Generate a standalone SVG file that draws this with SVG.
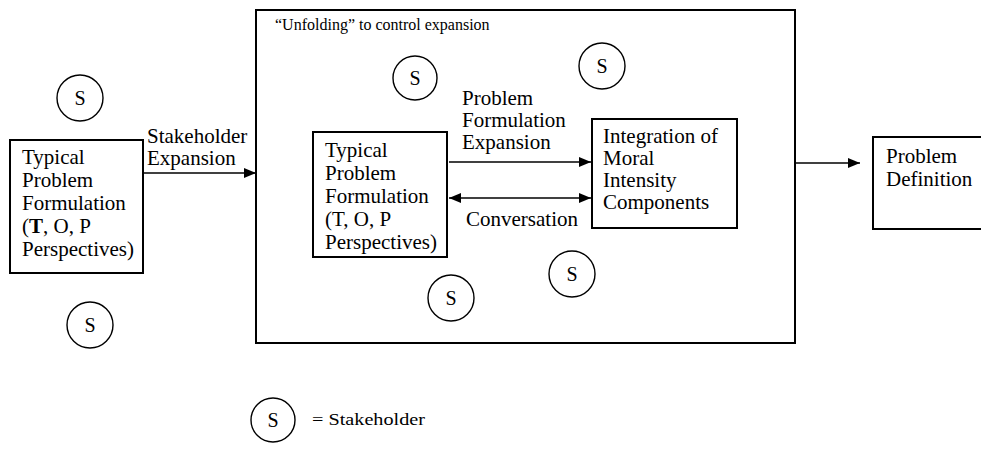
<svg xmlns="http://www.w3.org/2000/svg" width="981" height="449" viewBox="0 0 981 449">
<style>
text{font-family:"Liberation Serif","Times New Roman",serif;fill:#000}
.t{font-size:21px}
.s{font-size:20px}
.box{fill:#fff;stroke:#000;stroke-width:2}
.c{fill:none;stroke:#000;stroke-width:1.4}
.ln{stroke:#000;stroke-width:1.6;fill:none}
</style>
<defs>
<marker id="ah" viewBox="0 0 12 10" refX="12" refY="5" markerWidth="12" markerHeight="10" markerUnits="userSpaceOnUse" orient="auto-start-reverse">
<path d="M0,0 L12,5 L0,10 Z" fill="#000"/>
</marker>
</defs>
<rect width="981" height="449" fill="#fff"/>
<g id="unfolding">
<rect class="box" x="256" y="10" width="539" height="333"/>
<text x="275" y="30" style="font-size:16px">“Unfolding” to control expansion</text>
</g>
<g id="typical-left">
<rect class="box" x="10" y="140" width="133" height="133"/>
<text class="t" x="22" y="164">Typical</text>
<text class="t" x="22" y="187">Problem</text>
<text class="t" x="22" y="210">Formulation</text>
<text class="t" x="22" y="233">(<tspan font-weight="bold">T</tspan>, O, P</text>
<text class="t" x="22" y="256">Perspectives)</text>
</g>
<g id="typical-inner">
<rect class="box" x="313" y="132" width="134" height="125"/>
<text class="t" x="325" y="157">Typical</text>
<text class="t" x="325" y="180">Problem</text>
<text class="t" x="325" y="203">Formulation</text>
<text class="t" x="325" y="226">(T, O, P</text>
<text class="t" x="325" y="249">Perspectives)</text>
</g>
<g id="integration">
<rect class="box" x="592" y="119" width="145" height="109"/>
<text class="t" x="603" y="143">Integration of</text>
<text class="t" x="603" y="165">Moral</text>
<text class="t" x="603" y="187">Intensity</text>
<text class="t" x="603" y="209">Components</text>
</g>
<g id="problem-definition">
<rect class="box" x="873" y="137" width="112" height="92"/>
<text class="t" x="886" y="163">Problem</text>
<text class="t" x="886" y="186">Definition</text>
</g>
<g id="stakeholders">
<g id="s1"><circle class="c" cx="80" cy="98" r="23"/><text class="s" x="80" y="105" text-anchor="middle">S</text></g>
<g id="s2"><circle class="c" cx="90" cy="325" r="23"/><text class="s" x="90" y="332" text-anchor="middle">S</text></g>
<g id="s3"><circle class="c" cx="415" cy="78" r="22"/><text class="s" x="415" y="85" text-anchor="middle">S</text></g>
<g id="s4"><circle class="c" cx="602" cy="66" r="23"/><text class="s" x="602" y="73" text-anchor="middle">S</text></g>
<g id="s5"><circle class="c" cx="572" cy="274" r="23"/><text class="s" x="572" y="281" text-anchor="middle">S</text></g>
<g id="s6"><circle class="c" cx="451" cy="298" r="23"/><text class="s" x="451" y="305" text-anchor="middle">S</text></g>
</g>
<g id="legend">
<circle class="c" cx="273" cy="420" r="22"/><text class="s" x="273" y="427" text-anchor="middle">S</text>
<text x="312" y="425" style="font-size:17px" textLength="113" lengthAdjust="spacingAndGlyphs">= Stakeholder</text>
</g>
<g id="connectors">
<line class="ln" x1="143" y1="173" x2="256" y2="173" marker-end="url(#ah)"/>
<line class="ln" x1="449" y1="162" x2="591" y2="162" marker-end="url(#ah)"/>
<line class="ln" x1="449" y1="198" x2="591" y2="198" marker-start="url(#ah)" marker-end="url(#ah)"/>
<line class="ln" x1="796" y1="163" x2="860" y2="163" marker-end="url(#ah)"/>
<text class="t" x="147" y="143">Stakeholder</text>
<text class="t" x="147" y="165">Expansion</text>
<text class="t" x="462" y="105">Problem</text>
<text class="t" x="462" y="127">Formulation</text>
<text class="t" x="462" y="149">Expansion</text>
<text class="t" x="466" y="226">Conversation</text>
</g>
</svg>
